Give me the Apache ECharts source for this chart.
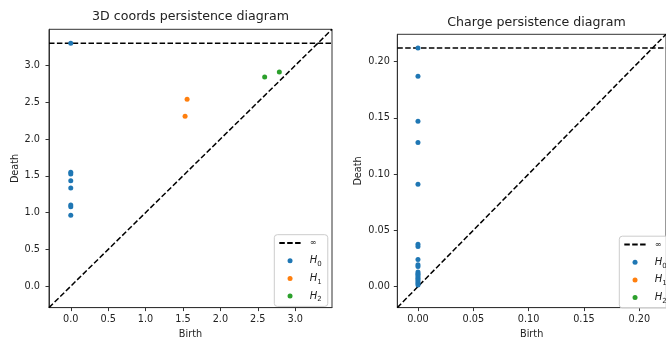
<!DOCTYPE html>
<html><head><meta charset="utf-8">
<script src="https://cdn.jsdelivr.net/npm/echarts@6/dist/echarts.min.js"></script>
<style>html,body{margin:0;padding:0;background:#fff}#c{width:666px;height:344px}</style>
</head><body><div id="c"></div>
<script>
// ---- data (Infinity = never dies, drawn on the ∞ line) ----
const titles = ['3D coords persistence diagram', 'Charge persistence diagram'];
const seriesNames = ['H0', 'H1', 'H2'];
const infName = '∞';

const coordsH0Birth = [0, 0, 0, 0, 0, 0, 0, 0];
const coordsH0Death = [Infinity, 1.549, 1.526, 1.433, 1.335, 1.103, 1.081, 0.965];
const coordsH1Birth = [1.528, 1.555];
const coordsH1Death = [2.31, 2.54];
const coordsH2Birth = [2.592, 2.788];
const coordsH2Death = [2.844, 2.91];

const chargeH0Birth = [0, 0, 0, 0, 0, 0, 0, 0, 0, 0, 0, 0, 0, 0, 0, 0, 0, 0, 0];
const chargeH0Death = [Infinity, 0.1868, 0.147, 0.128, 0.0909, 0.0375, 0.0357, 0.0241, 0.0195, 0.0178,
  0.013, 0.0115, 0.0105, 0.009, 0.0075, 0.006, 0.0045, 0.003, 0.0015];
const chargeH1Birth = [];
const chargeH1Death = [];
const chargeH2Birth = [];
const chargeH2Death = [];

const coordsTicks = [0, 0.5, 1.0, 1.5, 2.0, 2.5, 3.0];
const chargeTicks = [0, 0.05, 0.10, 0.15, 0.20];

// ---- helpers ----
const FONT = 'DejaVu Sans';
const TXT = '#222';
const LINE = '#333';

function limits(arrs) {
  const vals = arrs.flat().filter(v => isFinite(v));
  const mn = Math.min(...vals), mx = Math.max(...vals);
  const buf = (mx - mn) / 5;
  const lo = mn - buf / 2, hi = mx + buf;
  return { lo, hi, binf: lo + (hi - lo) * 0.95 };
}
function pairs(b, d, binf) {
  return b.map((x, i) => [x, isFinite(d[i]) ? d[i] : binf]);
}

const panels = [
  { births: [coordsH0Birth, coordsH1Birth, coordsH2Birth], deaths: [coordsH0Death, coordsH1Death, coordsH2Death],
    ticks: coordsTicks, dec: 1 },
  { births: [chargeH0Birth, chargeH1Birth, chargeH2Birth], deaths: [chargeH0Death, chargeH1Death, chargeH2Death],
    ticks: chargeTicks, dec: 2 }
];
const gridPos = [
  { left: 49, top: 29.3, width: 283, height: 283 },
  { left: 397.3, top: 34.3, width: 278.4, height: 278.4 }
];
const titleTop = [10.3, 16.3];
const yNameGap = [28, 34];
const yLabelMargin = [9, 7.5];
const legendPos = [{ left: 274.3, top: 234.7 }, { left: 619.3, top: 236.2 }];
const colors = ['#1f77b4', '#ff7f0e', '#2ca02c'];

const option = { animation: false, backgroundColor: '#fff', title: [], grid: [], xAxis: [], yAxis: [], series: [], legend: [] };

panels.forEach((p, k) => {
  const lim = limits([...p.births, ...p.deaths]);
  const g = gridPos[k];
  option.grid.push(Object.assign({ show: true, borderColor: LINE, borderWidth: 1, containLabel: false }, g));
  option.title.push({
    text: titles[k], left: g.left + g.width / 2, top: titleTop[k], textAlign: 'center', padding: 0,
    textStyle: { fontFamily: FONT, fontSize: 12.6, fontWeight: 'normal', color: TXT }
  });
  const axisCommon = {
    type: 'value', gridIndex: k, min: lim.lo, max: lim.hi,
    splitLine: { show: false },
    axisLine: { show: true, onZero: false, lineStyle: { color: LINE, width: 1 } },
    axisTick: { show: true, inside: false, length: 3.5, customValues: p.ticks, lineStyle: { color: LINE, width: 1 } },
    nameTextStyle: { fontFamily: FONT, fontSize: 9.7, color: TXT },
    nameLocation: 'middle'
  };
  option.xAxis.push(Object.assign({}, axisCommon, {
    name: 'Birth', nameGap: 21,
    axisLabel: { customValues: p.ticks, formatter: v => v.toFixed(p.dec), fontFamily: FONT, fontSize: 9.7, color: TXT, margin: 6.5 }
  }));
  option.yAxis.push(Object.assign({}, axisCommon, {
    name: 'Death', nameGap: yNameGap[k],
    axisLabel: { customValues: p.ticks, formatter: v => v.toFixed(p.dec), fontFamily: FONT, fontSize: 9.7, color: TXT, margin: yLabelMargin[k] }
  }));
  const dash = { color: '#000', width: 1.5, type: [5.5, 2.4] };
  option.series.push({
    type: 'line', xAxisIndex: k, yAxisIndex: k, symbol: 'none', silent: true, z: 1,
    data: [[lim.lo, lim.lo], [lim.hi, lim.hi]], lineStyle: dash
  });
  option.series.push({
    type: 'line', name: infName, xAxisIndex: k, yAxisIndex: k, symbol: 'none', silent: true, z: 1,
    data: [[lim.lo, lim.binf], [lim.hi, lim.binf]], lineStyle: dash, itemStyle: { color: '#000' }
  });
  seriesNames.forEach((nm, j) => {
    option.series.push({
      type: 'scatter', name: nm, xAxisIndex: k, yAxisIndex: k, symbol: 'circle', symbolSize: 5, z: 3,
      itemStyle: { color: colors[j], opacity: 1 },
      data: pairs(p.births[j], p.deaths[j], lim.binf)
    });
  });
  option.legend.push({
    orient: 'vertical', left: legendPos[k].left, top: legendPos[k].top,
    padding: [1.3, 6, 3.3, 4], itemGap: 3.7, itemWidth: 21.5, itemHeight: 5,
    backgroundColor: 'rgba(255,255,255,0.8)', borderColor: '#ccc', borderWidth: 1, borderRadius: 3,
    selectedMode: false,
    data: [{ name: infName, itemStyle: { opacity: 0 } }].concat(seriesNames.map(n => ({ name: n, icon: 'circle' }))),
    formatter: n => n === infName ? '{inf|∞}' : '{h|H}{s|' + n.slice(1) + '}',
    textStyle: {
      fontFamily: FONT, color: TXT, padding: [0, 0, 0, 4], lineHeight: 14,
      rich: {
        inf: { fontFamily: FONT, fontSize: 8, lineHeight: 14, color: TXT },
        h: { fontFamily: FONT, fontStyle: 'italic', fontSize: 10, lineHeight: 14, color: TXT },
        s: { fontFamily: FONT, fontSize: 7, lineHeight: 8, verticalAlign: 'bottom', color: TXT }
      }
    }
  });
});

const chart = echarts.init(document.getElementById('c'), null, { renderer: 'canvas' });
chart.setOption(option);
</script>
</body></html>
